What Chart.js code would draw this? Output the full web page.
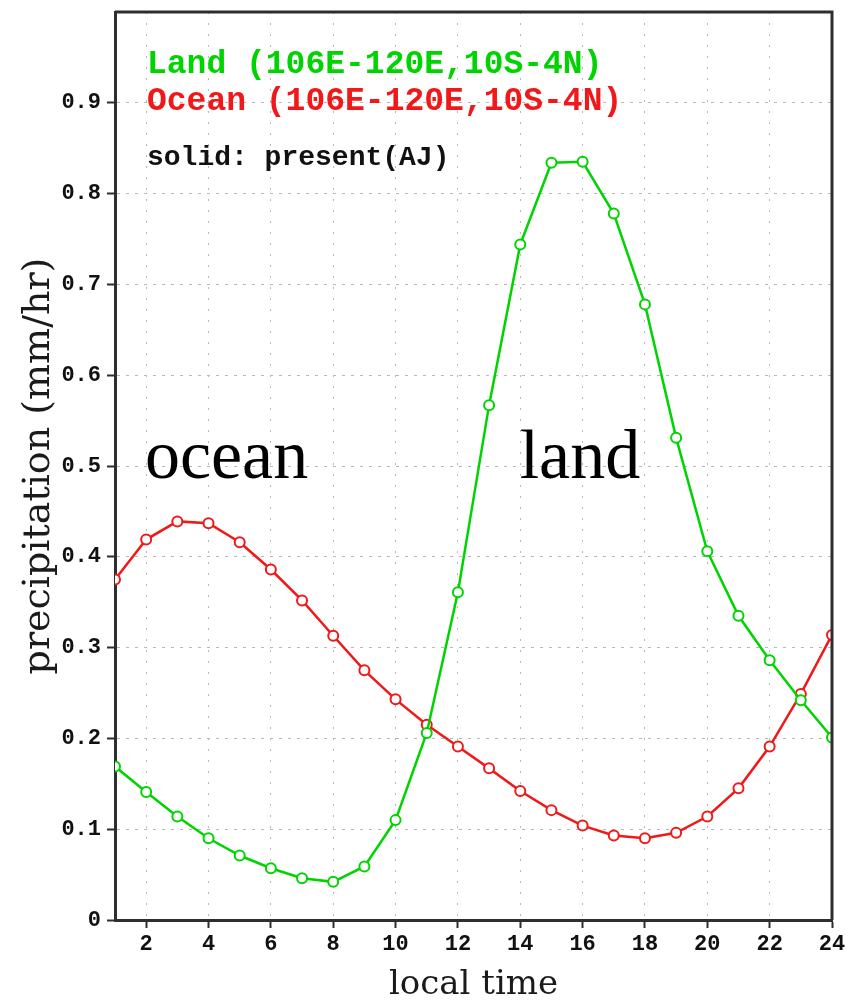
<!DOCTYPE html>
<html>
<head>
<meta charset="utf-8">
<title>Diurnal precipitation: land vs ocean</title>
<script src="https://cdn.jsdelivr.net/npm/chart.js@4/dist/chart.umd.min.js"></script>
<style>
  html, body { margin: 0; padding: 0; background: #ffffff; }
  #wrap { width: 851px; height: 1005px; }
</style>
</head>
<body>
<div id="wrap"><canvas id="c" width="851" height="1005"></canvas></div>
<script>
// Local hour of day
const hours = [1, 2, 3, 4, 5, 6, 7, 8, 9, 10, 11, 12, 13, 14, 15, 16, 17, 18, 19, 20, 21, 22, 23, 24];

// Mean precipitation (mm/hr), 106E-120E, 10S-4N
const landPrecip = [0.169, 0.141, 0.114, 0.090, 0.071, 0.057, 0.046, 0.042, 0.059, 0.110, 0.206, 0.361,
                    0.567, 0.744, 0.834, 0.835, 0.778, 0.678, 0.531, 0.406, 0.335, 0.286, 0.242, 0.201];
const oceanPrecip = [0.375, 0.419, 0.439, 0.437, 0.416, 0.386, 0.352, 0.313, 0.275, 0.243, 0.215, 0.191,
                     0.167, 0.142, 0.121, 0.104, 0.093, 0.090, 0.096, 0.114, 0.145, 0.191, 0.249, 0.314];

// Axis ticks
const xTicks = [2, 4, 6, 8, 10, 12, 14, 16, 18, 20, 22, 24];
const yTicks = [0, 0.1, 0.2, 0.3, 0.4, 0.5, 0.6, 0.7, 0.8, 0.9];

// Text inside the plot
const legendLines = [
  { text: 'Land (106E-120E,10S-4N)', color: '#00d400', size: 33 },
  { text: 'Ocean (106E-120E,10S-4N)', color: '#f01818', size: 33 },
  { text: 'solid: present(AJ)', color: '#111111', size: 28 }
];
const regionLabels = [
  { text: 'ocean', hour: 1.96, value: 0.487 },
  { text: 'land', hour: 13.98, value: 0.487 }
];

const GREEN = '#00d400';
const RED = '#f01818';
const AXIS = '#2e2e2e';
const GRID = '#b8b8b8';

const tickFont = { family: '"Liberation Mono", monospace', size: 22, weight: 'bold' };

const frameAndText = {
  id: 'frameAndText',
  afterDraw(chart) {
    const { ctx, chartArea: a, scales } = chart;
    ctx.save();
    // top and right frame
    ctx.strokeStyle = AXIS;
    ctx.lineWidth = 3;
    ctx.beginPath();
    ctx.moveTo(a.left, a.top);
    ctx.lineTo(a.right, a.top);
    ctx.lineTo(a.right, a.bottom);
    ctx.stroke();

    // legend block
    ctx.textAlign = 'left';
    ctx.textBaseline = 'alphabetic';
    const baselines = [61, 98, 153];
    legendLines.forEach((l, i) => {
      ctx.font = 'bold ' + l.size + 'px "Liberation Mono", monospace';
      ctx.fillStyle = l.color;
      ctx.fillText(l.text, a.left + 32, a.top + baselines[i]);
    });

    // region labels
    ctx.font = '70px "Liberation Serif", serif';
    ctx.fillStyle = '#000000';
    regionLabels.forEach(r => {
      ctx.fillText(r.text, scales.x.getPixelForValue(r.hour), scales.y.getPixelForValue(r.value));
    });
    ctx.restore();
  }
};

new Chart(document.getElementById('c'), {
  type: 'line',
  data: {
    datasets: [
      {
        label: 'Land',
        data: hours.map((h, i) => ({ x: h, y: landPrecip[i] })),
        borderColor: GREEN,
        backgroundColor: '#ffffff',
        borderWidth: 2.5,
        pointRadius: 5,
        pointBorderWidth: 2,
        pointBackgroundColor: '#ffffff',
        pointBorderColor: GREEN,
        tension: 0
      },
      {
        label: 'Ocean',
        data: hours.map((h, i) => ({ x: h, y: oceanPrecip[i] })),
        borderColor: RED,
        backgroundColor: '#ffffff',
        borderWidth: 2.5,
        pointRadius: 5,
        pointBorderWidth: 2,
        pointBackgroundColor: '#ffffff',
        pointBorderColor: RED,
        tension: 0
      }
    ]
  },
  options: {
    responsive: false,
    animation: false,
    layout: { padding: { top: 12, right: 19, left: 0, bottom: 0 } },
    plugins: {
      legend: { display: false },
      title: { display: false },
      tooltip: { enabled: false }
    },
    scales: {
      x: {
        type: 'linear',
        min: 1,
        max: 24,
        afterBuildTicks: s => { s.ticks = xTicks.map(v => ({ value: v })); },
        afterFit: s => { s.height = 85; s.paddingLeft = 0; s.paddingRight = 0; },
        ticks: {
          color: '#111111',
          font: tickFont,
          padding: 3,
          maxRotation: 0,
          autoSkip: false,
          callback: v => String(v)
        },
        grid: {
          color: GRID,
          lineWidth: 1,
          drawTicks: true,
          tickLength: 8,
          tickColor: AXIS,
          tickWidth: 2
        },
        border: { display: true, color: AXIS, width: 3, dash: [2, 9] },
        title: {
          display: true,
          text: 'local time',
          color: '#1a1a1a',
          font: { family: '"DejaVu Serif", serif', size: 34, lineHeight: 1 },
          padding: { top: 0, bottom: 3 }
        }
      },
      y: {
        type: 'linear',
        min: 0,
        max: 1.0,
        afterBuildTicks: s => { s.ticks = yTicks.map(v => ({ value: v })); },
        afterFit: s => { s.width = 115; s.paddingTop = 0; s.paddingBottom = 0; },
        ticks: {
          color: '#111111',
          font: tickFont,
          padding: 6,
          autoSkip: false,
          callback: v => (v === 0 ? '0' : v.toFixed(1))
        },
        grid: {
          color: GRID,
          lineWidth: 1,
          drawTicks: true,
          tickLength: 8,
          tickColor: AXIS,
          tickWidth: 2
        },
        border: { display: true, color: AXIS, width: 3, dash: [3, 6] },
        title: {
          display: true,
          text: 'precipitation (mm/hr)',
          color: '#1a1a1a',
          font: { family: '"DejaVu Serif", serif', size: 38, lineHeight: 1 },
          padding: { top: 20, bottom: 0 }
        }
      }
    }
  },
  plugins: [frameAndText]
});
</script>
</body>
</html>
